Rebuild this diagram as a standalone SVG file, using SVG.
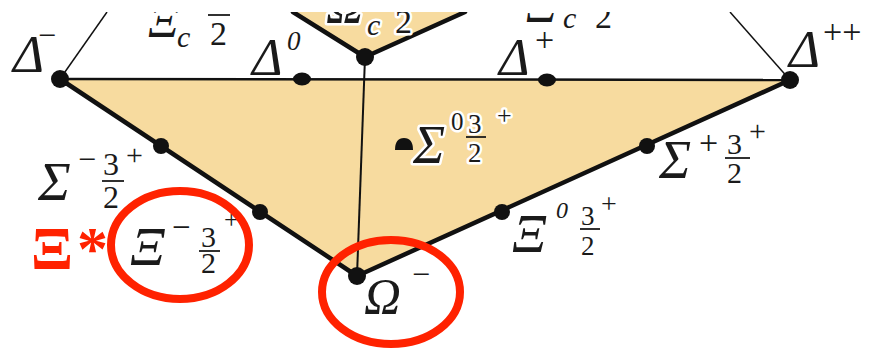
<svg xmlns="http://www.w3.org/2000/svg" width="877" height="351" viewBox="0 0 877 351">
<defs>
<clipPath id="crop"><rect x="0" y="12" width="877" height="339"/></clipPath>
</defs>
<style>
.g{font-family:"Liberation Serif","DejaVu Serif",serif;font-style:italic;fill:#1a1a1a}
.u{font-family:"Liberation Serif","DejaVu Serif",serif;font-style:normal;fill:#1a1a1a}
.halo{paint-order:stroke;stroke:#fff;stroke-width:5;stroke-linejoin:round}
.thick{stroke:#111;stroke-width:4.5;fill:none;stroke-linecap:round}
.thin{stroke:#111;stroke-width:1.5;fill:none}
.mid{stroke:#111;stroke-width:2.5;fill:none}
.bar{stroke:#1a1a1a;stroke-width:1.8}
.dot{fill:#111}
.red{fill:none;stroke:#ff2200;stroke-width:8}
</style>
<rect width="877" height="351" fill="#fff"/>
<g clip-path="url(#crop)">
<polygon points="60,79 790,80 357,276" fill="#f7db9f"/>
<polygon points="293,12 365,57 465,12" fill="#f7db9f"/>
<g id="connectors">
<line class="thin" x1="60" y1="79" x2="107" y2="12"/>
<line class="thin" x1="790" y1="80" x2="730" y2="12"/>
<line class="mid" x1="60" y1="79" x2="790" y2="80"/>
<line class="thin" x1="365" y1="57" x2="357" y2="276" style="stroke-width:2"/>
<line class="thick" x1="293" y1="12" x2="365" y2="57"/>
<line class="thick" x1="365" y1="57" x2="465" y2="12"/>
<line class="thick" x1="60" y1="79" x2="357" y2="276"/>
<line class="thick" x1="790" y1="80" x2="357" y2="276"/>
</g>
<g id="xi-c-left">
<text class="g" x="148" y="37" font-size="48">Ξ</text>
<text class="g" x="177" y="47" font-size="30">c</text>
<line class="bar" x1="208" y1="15" x2="230" y2="15"/>
<text class="u" x="210" y="45" font-size="34">2</text>
</g>
<g id="omega-c">
<text class="g halo" x="326" y="23" font-size="52">Ω</text>
<text class="g halo" x="367" y="35" font-size="30">c</text>
<text class="u halo" x="395" y="33" font-size="34">2</text>
</g>
<g id="xi-c-right">
<text class="g" x="526" y="22" font-size="48">Ξ</text>
<text class="g" x="563" y="28" font-size="30">c</text>
<text class="u" x="595" y="28" font-size="34">2</text>
</g>
<g id="sigma-c-top">
<circle class="dot" cx="365" cy="57" r="9"/>
</g>
<g id="delta-minus">
<circle class="dot" cx="60" cy="79" r="9"/>
<text class="g" x="13" y="72" font-size="53">Δ</text>
<text class="u" x="38" y="46" font-size="32">−</text>
</g>
<g id="delta-0">
<ellipse class="dot" cx="302" cy="79" rx="9" ry="6.5"/>
<text class="g" x="252" y="75" font-size="52">Δ</text>
<text class="g" x="287" y="50" font-size="27">0</text>
</g>
<g id="delta-plus">
<ellipse class="dot" cx="547" cy="80" rx="9" ry="6.5"/>
<text class="g" x="499" y="75" font-size="52">Δ</text>
<text class="u" x="535" y="51" font-size="34">+</text>
</g>
<g id="delta-plusplus">
<circle class="dot" cx="790" cy="80" r="9"/>
<text class="g" x="789" y="67" font-size="53">Δ</text>
<text class="u" x="823" y="43" font-size="34">++</text>
</g>
<g id="sigma-minus">
<circle class="dot" cx="161" cy="146" r="8"/>
<text class="g" x="38" y="200" font-size="55">Σ</text>
<text class="u" x="78" y="170" font-size="32">−</text>
<text class="u" x="103" y="175" font-size="32">3</text>
<line class="bar" x1="102" y1="181" x2="124" y2="181"/>
<text class="u" x="103" y="208" font-size="32">2</text>
<text class="u" x="126" y="165" font-size="30">+</text>
</g>
<g id="sigma-0">
<path class="dot" d="M395,150 Q395,138 404,138 Q413,138 413,150 Z"/>
<text class="g halo" x="413" y="163" font-size="54">Σ</text>
<text class="u halo" x="451" y="130" font-size="25">0</text>
<text class="u halo" x="468" y="133" font-size="27">3</text>
<line class="bar" x1="466" y1="137" x2="486" y2="137"/>
<text class="u halo" x="468" y="162" font-size="27">2</text>
<text class="u halo" x="497" y="124" font-size="26">+</text>
</g>
<g id="sigma-plus">
<circle class="dot" cx="647" cy="146" r="8"/>
<text class="g" x="659" y="178" font-size="54">Σ</text>
<text class="u" x="699" y="154" font-size="34">+</text>
<text class="u" x="727" y="154" font-size="30">3</text>
<line class="bar" x1="725" y1="158" x2="750" y2="158"/>
<text class="u" x="727" y="183" font-size="30">2</text>
<text class="u" x="749" y="141" font-size="30">+</text>
</g>
<g id="xi-0">
<circle class="dot" cx="502" cy="212" r="8"/>
<text class="g" x="512" y="252" font-size="54">Ξ</text>
<text class="g" x="556" y="218" font-size="24">0</text>
<text class="u" x="581" y="225" font-size="27">3</text>
<line class="bar" x1="580" y1="229" x2="600" y2="229"/>
<text class="u" x="581" y="255" font-size="27">2</text>
<text class="u" x="601" y="213" font-size="28">+</text>
</g>
<g id="xi-minus">
<circle class="dot" cx="260" cy="212" r="8"/>
<text class="g" x="130" y="265" font-size="55">Ξ</text>
<text class="u" x="172" y="238" font-size="33">−</text>
<text class="u" x="201" y="247" font-size="30">3</text>
<line class="bar" x1="199" y1="251" x2="220" y2="251"/>
<text class="u" x="201" y="273" font-size="30">2</text>
<text class="u" x="224" y="228" font-size="26">+</text>
<ellipse class="red" cx="180" cy="245" rx="69" ry="54"/>
</g>
<g id="xi-star-label">
<text x="31" y="269" font-family="'Liberation Serif','DejaVu Serif',serif" font-weight="bold" font-size="62" fill="#ff2200">Ξ<tspan x="77">*</tspan></text>
</g>
<g id="omega-minus">
<circle class="dot" cx="357" cy="276" r="9"/>
<text class="g" x="364" y="313" font-size="51">Ω</text>
<text class="u" x="412" y="285" font-size="32">−</text>
<ellipse class="red" cx="391" cy="292" rx="69" ry="52"/>
</g>
</g>
</svg>
